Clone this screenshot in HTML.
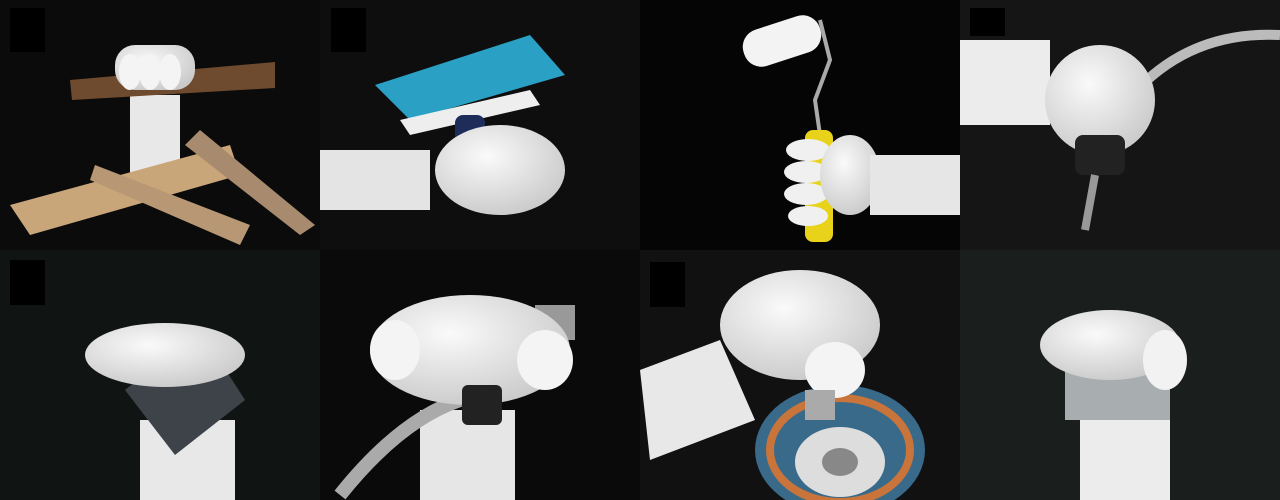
<!DOCTYPE html>
<html><head><meta charset="utf-8"><style>
html,body{margin:0;padding:0;background:#000;}
svg{display:block;}
</style></head><body>
<svg width="1280" height="500" viewBox="0 0 1280 500" xmlns="http://www.w3.org/2000/svg">
<defs>
<radialGradient id="w" cx="40%" cy="35%" r="70%"><stop offset="0" stop-color="#fafafa"/><stop offset="1" stop-color="#c9c9c9"/></radialGradient>
</defs>
<g>
<rect x="0" y="0" width="320" height="250" fill="#0b0b0b"/>
<rect x="10" y="8" width="35" height="44" fill="#000"/>
<rect x="130" y="95" width="50" height="80" fill="#e8e8e8"/>
<polygon points="10,205 230,145 240,175 30,235" fill="#c9a679"/>
<polygon points="200,130 315,225 300,235 185,145" fill="#a88b6e"/>
<polygon points="95,165 250,225 240,245 90,180" fill="#b89874"/>
<polygon points="70,80 275,62 275,88 72,100" fill="#6e4a2e"/>
<rect x="115" y="45" width="80" height="45" rx="20" fill="url(#w)"/>
<g fill="#f4f4f4"><ellipse cx="130" cy="72" rx="11" ry="18"/><ellipse cx="150" cy="72" rx="11" ry="18"/><ellipse cx="170" cy="72" rx="11" ry="18"/></g>
</g>
<g>
<rect x="320" y="0" width="320" height="250" fill="#0e0e0e"/>
<rect x="331" y="8" width="35" height="44" fill="#000"/>
<polygon points="375,85 530,35 565,75 410,120" fill="#2aa1c4"/>
<polygon points="400,120 530,90 540,105 410,135" fill="#eee"/>
<rect x="455" y="115" width="30" height="60" rx="8" fill="#1e2c5a"/>
<rect x="320" y="150" width="110" height="60" fill="#e4e4e4"/>
<ellipse cx="500" cy="170" rx="65" ry="45" fill="url(#w)"/>
</g>
<g>
<rect x="640" y="0" width="320" height="250" fill="#050505"/>
<rect x="742" y="22" width="80" height="38" rx="18" transform="rotate(-18 782 41)" fill="#f3f3f3"/>
<polyline points="820,20 830,60 815,100 820,135" stroke="#aaa" stroke-width="4" fill="none"/>
<rect x="805" y="130" width="28" height="112" rx="8" fill="#e8d21a"/>
<g fill="#f0f0f0"><ellipse cx="808" cy="150" rx="22" ry="11"/><ellipse cx="806" cy="172" rx="22" ry="11"/><ellipse cx="806" cy="194" rx="22" ry="11"/><ellipse cx="808" cy="216" rx="20" ry="10"/></g>
<ellipse cx="850" cy="175" rx="30" ry="40" fill="url(#w)"/>
<rect x="870" y="155" width="90" height="60" fill="#e6e6e6"/>
</g>
<g>
<rect x="960" y="0" width="320" height="250" fill="#151515"/>
<rect x="970" y="8" width="35" height="28" fill="#000"/>
<path d="M1120,110 Q1180,30 1280,35" stroke="#bbb" stroke-width="10" fill="none"/>
<rect x="960" y="40" width="90" height="85" fill="#ececec"/>
<ellipse cx="1100" cy="100" rx="55" ry="55" fill="url(#w)"/>
<rect x="1075" y="135" width="50" height="40" rx="8" fill="#222"/>
<line x1="1095" y1="175" x2="1085" y2="230" stroke="#999" stroke-width="8"/>
</g>
<g>
<rect x="0" y="250" width="320" height="250" fill="#101513"/>
<rect x="10" y="260" width="35" height="45" fill="#000"/>
<rect x="140" y="420" width="95" height="80" fill="#e8e8e8"/>
<polygon points="125,390 200,330 245,400 175,455" fill="#3e434a"/>
<ellipse cx="165" cy="355" rx="80" ry="32" fill="url(#w)"/>
</g>
<g>
<rect x="320" y="250" width="320" height="250" fill="#0a0a0a"/>
<rect x="420" y="410" width="95" height="90" fill="#e6e6e6"/>
<path d="M340,495 Q400,420 460,400" stroke="#aaa" stroke-width="14" fill="none"/>
<rect x="535" y="305" width="40" height="35" fill="#999"/>
<ellipse cx="470" cy="350" rx="100" ry="55" fill="url(#w)"/>
<g fill="#f4f4f4"><ellipse cx="395" cy="350" rx="25" ry="30"/><ellipse cx="545" cy="360" rx="28" ry="30"/></g>
<rect x="462" y="385" width="40" height="40" rx="6" fill="#222"/>
</g>
<g>
<rect x="640" y="250" width="320" height="250" fill="#111"/>
<rect x="650" y="262" width="35" height="45" fill="#000"/>
<ellipse cx="840" cy="450" rx="85" ry="65" fill="#3a6a8a"/>
<ellipse cx="840" cy="450" rx="70" ry="52" fill="none" stroke="#c8743a" stroke-width="8"/>
<ellipse cx="840" cy="462" rx="45" ry="35" fill="#ddd"/>
<ellipse cx="840" cy="462" rx="18" ry="14" fill="#888"/>
<polygon points="640,370 720,340 755,420 650,460" fill="#e8e8e8"/>
<ellipse cx="800" cy="325" rx="80" ry="55" fill="url(#w)"/>
<ellipse cx="835" cy="370" rx="30" ry="28" fill="#f4f4f4"/>
<rect x="805" y="390" width="30" height="30" fill="#aaa"/>
</g>
<g>
<rect x="960" y="250" width="320" height="250" fill="#1a1f1d"/>
<rect x="1080" y="415" width="90" height="85" fill="#ececec"/>
<rect x="1065" y="330" width="105" height="90" fill="#a8adb0"/>
<ellipse cx="1110" cy="345" rx="70" ry="35" fill="url(#w)"/>
<ellipse cx="1165" cy="360" rx="22" ry="30" fill="#f2f2f2"/>
</g>
</svg>
</body></html>
